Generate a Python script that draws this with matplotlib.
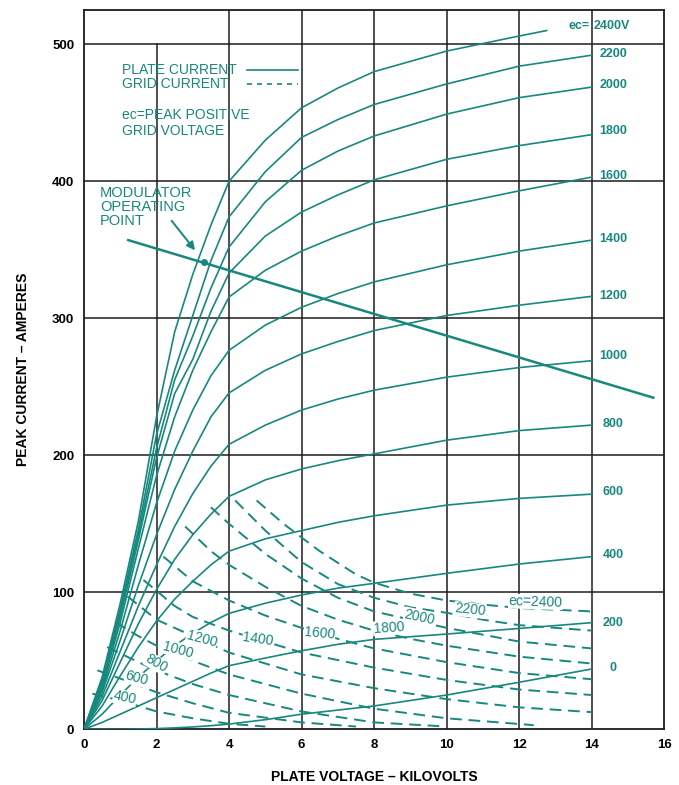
import numpy as np
import matplotlib.pyplot as plt

plt.rcParams['font.family'] = ['Liberation Sans', 'DejaVu Sans']

TEAL = '#17887e'
GRID = '#1c1c1c'

## Plate current (solid curves), amperes, read at these plate voltages (kV)
kv = [0, 0.5, 1, 1.5, 2, 2.5, 3, 3.5, 4, 5, 6, 7, 8, 10, 12, 14]
kv_2400 = [0, 0.5, 1, 1.5, 2, 2.5, 3, 3.5, 4, 5, 6, 7, 8, 10, 12, 12.76]

ip_2400 = [0, 38, 92, 152, 228, 290, 332, 368, 400, 430, 453.6, 468, 480, 495, 506, 510]
ip_2200 = [0, 36, 88, 146, 215, 262, 302, 342, 374, 407, 432, 445, 456, 471, 484, 492]
ip_2000 = [0, 34, 85, 142, 205, 255, 287, 322, 352, 385, 408, 422, 433, 449, 461, 468.7]
ip_1800 = [0, 33, 82, 138, 198, 245, 270, 305, 333, 360, 377.5, 390, 401, 416, 426, 434]
ip_1600 = [0, 31, 78, 132, 185, 228, 262, 290, 315.5, 335, 349, 360, 369.5, 382, 393, 403]
ip_1400 = [0, 29, 72, 120, 165, 203, 233, 258, 276.6, 295, 308, 318, 326.5, 339, 349, 357]
ip_1200 = [0, 27, 65, 105, 142, 175, 203, 228, 245.5, 262, 274, 283, 291, 302, 309.5, 316]
ip_1000 = [0, 24, 57, 90, 120, 148, 172, 192, 208, 222, 233, 241, 247.5, 257, 264, 269]
ip_800 = [0, 21, 49, 77, 102, 124, 142, 157, 170, 182, 190, 196, 201, 211, 218, 222]
ip_600 = [0, 17, 39, 60, 79, 95, 108, 120, 130, 139, 145, 151, 155.8, 163.6, 168.5, 171.6]
ip_400 = [0, 11, 25, 38, 50, 61, 70, 78, 84.6, 92, 98, 103, 106.5, 113.8, 120.6, 126]
ip_200 = [0, 5, 11, 17, 23, 29, 35, 41, 46.4, 52, 57.3, 62, 65.6, 69.5, 73.6, 77.8]
ip_0 = [0, 0, 0, 0.2, 0.5, 1, 1.7, 2.6, 3.8, 7, 11, 14, 17, 25, 34.3, 44]

## Grid current (dashed curves)
ig_2400_kv = [4.76, 5.5, 6.5, 7.5, 8, 9, 10, 11, 12, 14]
ig_2400 = [167, 150, 130, 113, 107, 99, 94, 91, 88.5, 86]
ig_2200_kv = [4.17, 5, 6, 7, 8, 9, 10, 11, 12, 14]
ig_2200 = [167, 145, 122, 106, 96, 89, 85, 80, 76, 72]
ig_2000_kv = [3.5, 4, 5, 6, 7, 8, 9, 10, 12, 14]
ig_2000 = [162, 150, 128, 110, 96, 86, 80, 74, 64, 59]
ig_1800_kv = [2.79, 3.5, 4, 5, 6, 7, 8, 9, 10, 12, 14]
ig_1800 = [148, 130, 120, 104, 90, 80, 72, 66, 61, 53, 48]
ig_1600_kv = [2.19, 3, 4, 5, 6, 7, 8, 10, 12, 14]
ig_1600 = [126, 108, 94, 83, 74, 66, 59, 49, 41, 36.5]
ig_1400_kv = [1.64, 2.5, 3, 4, 5, 6, 8, 10, 12, 14]
ig_1400 = [109, 90, 82, 72, 64, 56, 45, 36, 29, 25]
ig_1200_kv = [1.2, 2, 3, 4, 5, 6, 8, 10, 12, 14]
ig_1200 = [97, 80, 68, 56, 48, 40, 30, 22, 16, 12.5]
ig_1000_kv = [0.87, 1.5, 2, 3, 4, 6, 8, 10, 12.4]
ig_1000 = [78, 68, 61, 50, 40, 26, 15, 8, 3]
ig_800_kv = [0.64, 1.5, 2, 3, 4, 6, 8, 10]
ig_800 = [60, 49, 43, 33, 25, 13, 5, 2]
ig_600_kv = [0.37, 1, 2, 3, 4, 6, 7.5]
ig_600 = [43, 37, 27, 19, 12, 5, 2]
ig_400_kv = [0.23, 1, 2, 3, 4, 5]
ig_400 = [26, 21, 13, 8, 4, 2]

# Labels at the right end of the plate curves
plate_labels = ['2200', '2000', '1800', '1600', '1400', '1200', '1000', '800', '600', '400', '200', '0']
plate_label_y = [492.5, 470.6, 437, 404, 358, 316, 272.6, 222.8, 173, 127, 77.6, 44.7]

# Labels written on the grid current curves: text, kV, amperes, angle
grid_labels = ['400', '600', '800', '1000', '1200', '1400', '1600', '1800', '2000', '2200', 'ec=2400']
grid_label_x = [1.13, 1.45, 2.0, 2.6, 3.25, 4.8, 6.5, 8.4, 9.25, 10.65, 12.45]
grid_label_y = [23, 37, 48, 58, 66, 66, 70, 74, 82, 87, 93]
grid_label_rot = [-12, -15, -30, -15, -15, -8, -5, 4, -12, -6, -2]

# Modulator load line and operating point
load_kv = [1.22, 15.7]
load_amp = [357, 242]
op_kv, op_amp = 3.31, 341

## Figure
fig = plt.figure(figsize=(6.79, 7.85), dpi=100)
ax = fig.add_axes([0.1237, 0.0710, 0.8546, 0.9163])
ax.set_xlim(0, 16)
ax.set_ylim(0, 525)

# Grid: the 2 kV line stops at 500 A, the others run to the top, none past 14 kV
for x in range(2, 15, 2):
    top = 500 if x == 2 else 525
    ax.plot([x, x], [0, top], color=GRID, lw=1.1, zorder=1)
for y in range(100, 501, 100):
    ax.plot([0, 16], [y, y], color=GRID, lw=1.1, zorder=1)

# Plate current curves
plate = [ip_2200, ip_2000, ip_1800, ip_1600, ip_1400, ip_1200,
         ip_1000, ip_800, ip_600, ip_400, ip_200, ip_0]
ax.plot(kv_2400, ip_2400, color=TEAL, lw=1.2, zorder=3)
for ip in plate:
    ax.plot(kv, ip, color=TEAL, lw=1.2, zorder=3)

# Grid current curves
grid = [(ig_2400_kv, ig_2400), (ig_2200_kv, ig_2200), (ig_2000_kv, ig_2000),
        (ig_1800_kv, ig_1800), (ig_1600_kv, ig_1600), (ig_1400_kv, ig_1400),
        (ig_1200_kv, ig_1200), (ig_1000_kv, ig_1000), (ig_800_kv, ig_800),
        (ig_600_kv, ig_600), (ig_400_kv, ig_400)]
for gx, gy in grid:
    ax.plot(gx, gy, color=TEAL, lw=1.4, ls=(0, (6, 3.5)), zorder=3)

for t, x, y, r in zip(grid_labels, grid_label_x, grid_label_y, grid_label_rot):
    ax.text(x, y, t, color=TEAL, fontsize=10, rotation=r, ha='center', va='center',
            zorder=4, bbox=dict(facecolor='white', edgecolor='none', pad=0.3))

for t, y in zip(plate_labels, plate_label_y):
    ax.text(14.6, y, t, color=TEAL, fontsize=9, fontweight='bold', ha='center', va='center')
ax.text(13.95, 513, 'ec=', color=TEAL, fontsize=9, fontweight='bold', ha='right', va='center')
ax.text(14.05, 513, '2400V', color=TEAL, fontsize=9, fontweight='bold', ha='left', va='center',
        bbox=dict(facecolor='white', edgecolor='none', pad=0.5))

# Load line with operating point
ax.plot(load_kv, load_amp, color=TEAL, lw=1.8, zorder=3)
ax.plot(op_kv, op_amp, 'o', color=TEAL, ms=4, zorder=5)
ax.annotate('', xy=(op_kv - 0.2, op_amp + 7), xytext=(2.37, 372.7),
            arrowprops=dict(arrowstyle='-|>', color=TEAL, lw=1.4, mutation_scale=12))
ax.text(0.44, 381, 'MODULATOR\nOPERATING\nPOINT', color=TEAL, fontsize=10.5,
        ha='left', va='center', linespacing=1.0)

# Legend written as text
ax.text(1.05, 481, 'PLATE CURRENT', color=TEAL, fontsize=10, ha='left', va='center')
ax.text(1.05, 471, 'GRID CURRENT', color=TEAL, fontsize=10, ha='left', va='center')
ax.plot([4.5, 5.9], [481, 481], color=TEAL, lw=1.2)
ax.plot([4.5, 5.9], [471, 471], color=TEAL, lw=1.2, ls=(0, (3, 3)))
ax.text(1.05, 448, 'ec=PEAK POSITIVE', color=TEAL, fontsize=10, ha='left', va='center')
ax.text(1.05, 437, 'GRID VOLTAGE', color=TEAL, fontsize=10, ha='left', va='center')

# Axes
ax.set_xticks(range(0, 17, 2))
ax.set_yticks(range(0, 501, 100))
ax.tick_params(length=0, labelsize=9.5, pad=7)
for lab in ax.get_xticklabels() + ax.get_yticklabels():
    lab.set_fontweight('bold')
for s in ax.spines.values():
    s.set_linewidth(1.3)
    s.set_color(GRID)
ax.set_xlabel('PLATE VOLTAGE – KILOVOLTS', fontsize=10, fontweight='bold', labelpad=14)
ax.set_ylabel('PEAK CURRENT – AMPERES', fontsize=10, fontweight='bold', labelpad=16)

fig.savefig('out.png', dpi=100)
